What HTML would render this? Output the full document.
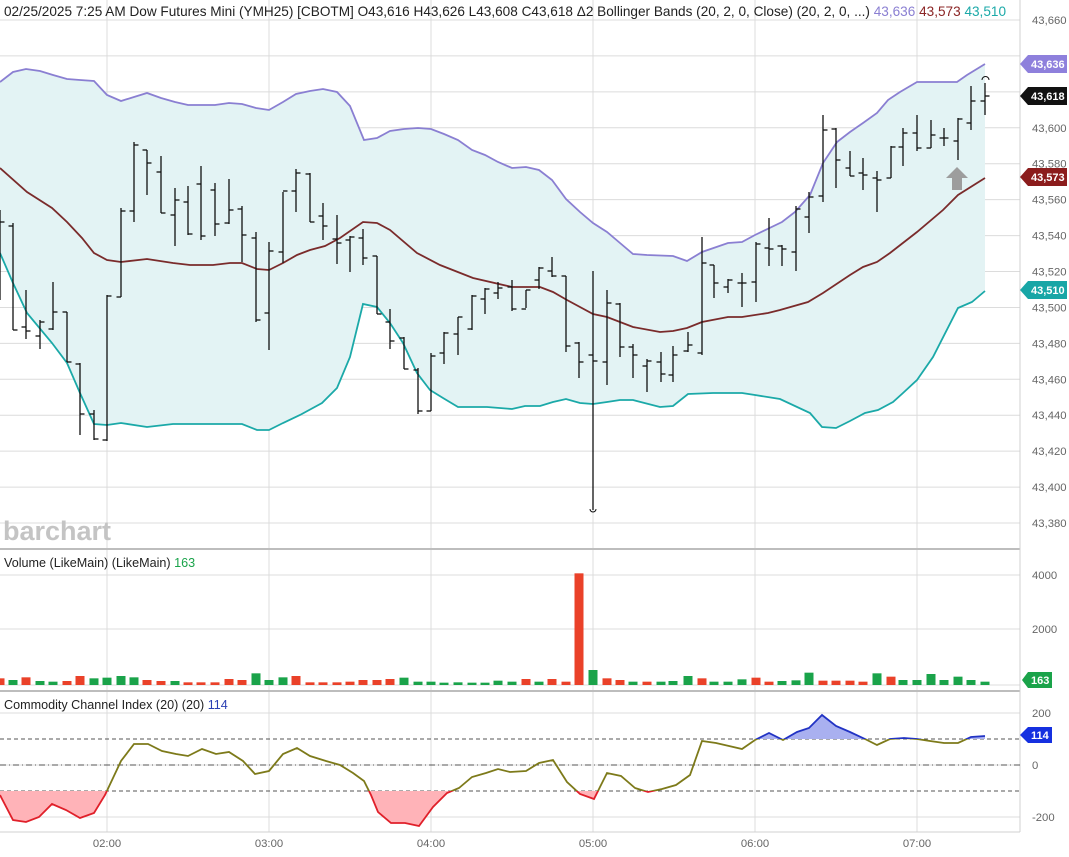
<!DOCTYPE html>
<html><head><meta charset="utf-8"><style>
html,body{margin:0;padding:0;background:#fff;}
body{width:1069px;height:857px;overflow:hidden;font-family:"Liberation Sans",sans-serif;}
svg{display:block}
</style></head><body>
<svg id="s" width="1069" height="857" xmlns="http://www.w3.org/2000/svg" font-family="Liberation Sans, sans-serif">
<defs>
<clipPath id="cA"><rect x="0" y="690" width="1020" height="49"/></clipPath>
<clipPath id="cM"><rect x="0" y="739" width="1020" height="52"/></clipPath>
<clipPath id="cB"><rect x="0" y="791" width="1020" height="45"/></clipPath>
</defs>
<g id="grid" stroke="#dcdcdc" stroke-width="1"></g>
<polygon id="band" fill="#e3f3f4" stroke="none"/>
<polyline id="up" fill="none" stroke="#8a7fd2" stroke-width="1.8"/>
<polyline id="mid" fill="none" stroke="#7a2b2b" stroke-width="1.8"/>
<polyline id="lo" fill="none" stroke="#1ba9a8" stroke-width="1.8"/>
<g id="bars" stroke="#111" stroke-width="1.3"></g>
<path d="M593 509 a3 3 0 0 0 6 0" transform="translate(-3,0)" fill="none" stroke="#111"/>
<path d="M982 80 a3.5 3.5 0 0 1 7 0" fill="none" stroke="#111"/>
<polygon points="957,167 968,178 962,178 962,190 952,190 952,178 946,178" fill="#9d9d9d"/>
<text x="3" y="540" font-size="27" font-weight="bold" fill="#c4c4c4">barchart</text>
<text x="4" y="16" font-size="13.6" fill="#222">02/25/2025 7:25 AM Dow Futures Mini (YMH25) [CBOTM] O43,616 H43,626 L43,608 C43,618 Δ2 Bollinger Bands (20, 2, 0, Close)  (20, 2, 0, ...) <tspan fill="#8a7fd2">43,636</tspan> <tspan fill="#8b2525">43,573</tspan> <tspan fill="#1ba9a8">43,510</tspan></text>
<line x1="0" y1="549" x2="1020" y2="549" stroke="#bdbdbd" stroke-width="2"/>
<line x1="0" y1="691" x2="1020" y2="691" stroke="#bdbdbd" stroke-width="2"/>
<line x1="1020" y1="0" x2="1020" y2="832" stroke="#d0d0d0"/>
<line x1="0" y1="832" x2="1020" y2="832" stroke="#d0d0d0"/>
<text x="4" y="567" font-size="12.6" fill="#222">Volume (LikeMain)  (LikeMain) <tspan fill="#1aa34a">163</tspan></text>
<g id="vol"></g>
<text x="4" y="709" font-size="12.6" fill="#222">Commodity Channel Index (20)  (20) <tspan fill="#2b3fb3">114</tspan></text>
<g stroke="#555" stroke-width="0.9">
<line x1="0" y1="739" x2="1020" y2="739" stroke-dasharray="4,3"/>
<line x1="0" y1="791" x2="1020" y2="791" stroke-dasharray="4,3"/>
<line x1="0" y1="765" x2="1020" y2="765" stroke-dasharray="6,3,1,3"/>
</g>
<polygon id="cfA" clip-path="url(#cA)" fill="#a9b0f0"/>
<polygon id="cfB" clip-path="url(#cB)" fill="#ffb3b8"/>
<polyline id="clA" clip-path="url(#cA)" fill="none" stroke="#2233c4" stroke-width="1.8"/>
<polyline id="clM" clip-path="url(#cM)" fill="none" stroke="#7d7a1a" stroke-width="1.8"/>
<polyline id="clB" clip-path="url(#cB)" fill="none" stroke="#e0202a" stroke-width="1.8"/>
<g id="axis" font-size="11.3" fill="#666"></g>
<g font-size="11" font-weight="bold" fill="#fff">
<polygon points="1020,64 1028,55 1067,55 1067,73 1028,73" fill="#8e80dc"/><text x="1031" y="68">43,636</text>
<polygon points="1020,96 1028,87 1067,87 1067,105 1028,105" fill="#111"/><text x="1031" y="100">43,618</text>
<polygon points="1020,177 1028,168 1067,168 1067,186 1028,186" fill="#8b1c1c"/><text x="1031" y="181">43,573</text>
<polygon points="1020,290 1028,281 1067,281 1067,299 1028,299" fill="#18a6a6"/><text x="1031" y="294">43,510</text>
<polygon points="1022,680 1028,672 1052,672 1052,688 1028,688" fill="#1aa34a"/><text x="1031" y="684">163</text>
<polygon points="1020,735 1028,727 1052,727 1052,743 1028,743" fill="#1530e0"/><text x="1031" y="739">114</text>
</g>
</svg>
<script>
const NS="http://www.w3.org/2000/svg";
function el(t,a,p){const e=document.createElementNS(NS,t);for(const k in a)e.setAttribute(k,a[k]);(p||document.getElementById('s')).appendChild(e);return e;}
const grid=document.getElementById('grid'), axis=document.getElementById('axis');
for(let i=0;i<=14;i++){const y=20+i*35.93;el('line',{x1:0,y1:y,x2:1020,y2:y},grid);
 const p=43660-i*20; if(p!==43640&&p!==43620){const t=el('text',{x:1032,y:y+4},axis);t.textContent=p.toLocaleString('en-US');}}
[[575,'4000'],[629,'2000'],[713,'200'],[765,'0'],[817,'-200']].forEach(([y,s])=>{el('line',{x1:0,y1:y,x2:1020,y2:y},grid);const t=el('text',{x:1032,y:y+4},axis);t.textContent=s;});
el('line',{x1:0,y1:685,x2:1020,y2:685},grid);
[[107,'02:00'],[269,'03:00'],[431,'04:00'],[593,'05:00'],[755,'06:00'],[917,'07:00']].forEach(([x,s])=>{el('line',{x1:x,y1:0,x2:x,y2:832},grid);const t=el('text',{x:x,y:847,'text-anchor':'middle'},axis);t.textContent=s;});
const up=[[0,82],[13,72],[26,69],[40,71],[53,75],[67,79],[80,80],[94,81],[107,95],[121,101],[134,97],[147,93],[161,98],[175,102],[188,105],[215,105],[229,103],[242,104],[256,108],[269,110],[283,102],[296,94],[310,91],[323,89],[337,92],[350,106],[364,140],[377,138],[390,131],[404,129],[418,128],[431,129],[444,134],[458,140],[472,150],[485,155],[498,162],[512,168],[526,167],[539,170],[552,180],[566,199],[580,212],[593,223],[607,232],[620,243],[633,254],[647,255],[673,256],[687,261],[702,252],[728,243],[742,242],[755,235],[782,222],[795,212],[810,195],[823,163],[837,142],[850,132],[863,123],[877,113],[888,100],[900,92],[917,82],[957,82],[967,75],[985,64]];
const mid=[[0,168],[27,192],[52,208],[67,222],[82,238],[94,253],[107,260],[121,262],[147,259],[173,263],[190,265],[213,265],[230,263],[242,263],[257,269],[269,270],[283,263],[297,255],[310,250],[325,246],[340,238],[363,222],[377,223],[390,230],[417,253],[440,265],[473,278],[512,287],[540,287],[553,292],[567,300],[593,314],[607,317],[633,327],[660,332],[673,331],[687,328],[702,322],[728,317],[742,317],[768,313],[780,310],[808,302],[823,293],[850,275],[863,267],[877,262],[890,253],[917,232],[943,210],[958,195],[985,178]];
const lo=[[0,253],[13,283],[27,313],[52,343],[67,363],[80,393],[94,424],[107,425],[121,423],[147,427],[173,424],[200,424],[242,424],[257,430],[269,430],[283,423],[300,415],[322,403],[337,388],[350,357],[363,304],[377,307],[390,323],[403,343],[417,373],[430,390],[443,398],[458,407],[487,407],[512,409],[525,406],[540,406],[553,402],[566,399],[580,403],[593,404],[607,402],[620,400],[633,400],[660,407],[673,406],[688,394],[713,393],[742,393],[755,395],[780,399],[810,413],[822,427],[836,428],[850,421],[865,413],[878,410],[893,402],[903,393],[917,380],[933,357],[958,308],[972,302],[985,291]];
const pts=a=>a.map(p=>p.join(',')).join(' ');
document.getElementById('up').setAttribute('points',pts(up));
document.getElementById('mid').setAttribute('points',pts(mid));
document.getElementById('lo').setAttribute('points',pts(lo));
document.getElementById('band').setAttribute('points',pts(up)+' '+pts(lo.slice().reverse()));
const B=[[0,210,300,215,222],[13,223,330,226,330],[26,290,339,327,331],[40,320,349,336,322],[53,282,330,329,312],[67,312,362,312,362],[80,363,435,364,414],[94,410,440,414,439],[107,295,441,440,296],[121,208,297,297,211],[134,142,222,211,145],[147,150,195,150,163],[161,156,213,172,213],[175,188,246,215,200],[188,186,235,202,234],[201,166,240,184,236],[215,183,236,190,224],[229,179,224,223,210],[242,206,262,209,235],[256,232,322,238,320],[269,242,350,313,251],[283,192,263,252,191],[296,169,212,191,173],[310,173,222,174,222],[323,203,240,216,226],[337,215,264,239,243],[350,236,272,240,237],[363,229,265,238,258],[377,256,314,256,314],[390,309,349,322,341],[404,337,369,338,369],[418,368,414,370,411],[431,353,411,411,356],[444,332,364,353,333],[458,317,355,334,317],[472,295,330,329,296],[485,288,314,299,289],[498,282,299,293,288],[512,280,311,287,309],[526,290,308,309,290],[539,267,289,280,268],[552,257,277,271,276],[566,276,352,276,346],[579,342,378,343,362],[593,271,510,355,361],[607,290,385,362,303],[620,303,357,304,347],[633,344,378,347,355],[647,359,392,366,361],[661,352,382,362,374],[673,346,382,375,355],[688,332,352,351,345],[702,237,355,353,263],[714,265,298,265,283],[728,279,293,287,280],[742,273,307,283,283],[756,242,302,282,244],[769,218,266,248,249],[782,245,266,246,249],[796,206,271,252,209],[809,192,233,217,197],[823,115,202,196,130],[836,128,188,129,160],[850,151,176,168,176],[863,158,190,173,175],[877,171,212,178,180],[891,146,178,178,147],[903,128,166,147,133],[917,115,151,133,148],[931,120,148,148,135],[944,128,146,138,138],[958,118,160,141,119],[971,86,130,123,101],[985,83,115,101,96]];
const bars=document.getElementById('bars');
B.forEach(([x,h,l,o,c])=>{el('line',{x1:x,y1:h,x2:x,y2:l},bars);el('line',{x1:x-4.5,y1:o,x2:x,y2:o},bars);el('line',{x1:x,y1:c,x2:x+4.5,y2:c},bars);});
const V=[['r',400],['g',405],['r',397],['g',408],['g',410],['r',408],['r',393],['g',400],['g',398],['g',393],['g',397],['r',405],['r',408],['g',408],['r',412],['r',412],['r',412],['r',402],['r',405],['g',385],['g',405],['g',397],['r',393],['r',412],['r',412],['r',412],['r',410],['r',405],['r',405],['r',402],['g',398],['g',410],['g',410],['g',413],['g',412],['g',413],['g',413],['g',407],['g',410],['r',402],['g',410],['r',402],['r',410],['r',85],['g',375],['r',400],['r',405],['g',410],['r',410],['g',410],['g',408],['g',393],['r',400],['g',410],['g',410],['g',403],['r',398],['r',410],['g',408],['g',406],['g',383],['r',407],['r',407],['r',407],['r',410],['g',385],['r',395],['g',405],['g',405],['g',387],['g',405],['g',395],['g',405],['g',410]];
const vg=document.getElementById('vol');
B.forEach((b,i)=>{const v=V[i]||['g',405];const h=Math.max(2,(420-v[1])/3);el('rect',{x:b[0]-4.5,y:685-h,width:9,height:h,fill:v[0]=='r'?'#ea4129':'#1aa34a'},vg);});
const C=[[0,795],[13,820],[26,822],[39,817],[52,804],[66,810],[80,818],[94,813],[105,795],[121,761],[134,744],[148,744],[162,751],[176,754],[188,756],[202,749],[216,754],[229,752],[243,761],[255,774],[269,771],[283,754],[297,748],[310,756],[326,761],[340,765],[353,773],[364,781],[371,795],[378,812],[391,823],[405,823],[419,826],[433,807],[447,793],[459,788],[472,777],[486,773],[498,769],[510,772],[526,771],[539,763],[553,760],[567,782],[580,794],[594,799],[607,773],[621,776],[635,788],[648,792],[662,789],[676,785],[690,775],[702,741],[716,743],[729,746],[742,749],[755,740],[769,733],[783,740],[797,732],[809,728],[822,715],[836,726],[850,732],[865,739],[877,745],[890,739],[904,738],[917,739],[930,741],[944,743],[958,743],[971,737],[985,736]];
const cp=pts(C);
['clA','clM','clB'].forEach(id=>document.getElementById(id).setAttribute('points',cp));
document.getElementById('cfA').setAttribute('points',cp+' 985,739 0,739');
document.getElementById('cfB').setAttribute('points',cp+' 985,791 0,791');
</script>
</body></html>
